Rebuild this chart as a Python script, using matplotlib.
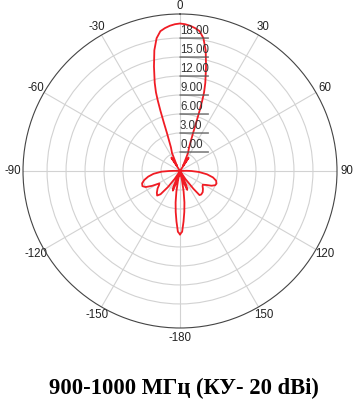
import numpy as np
import matplotlib
matplotlib.use('Agg')
import matplotlib.pyplot as plt

# pattern: angle (deg, clockwise from top) and gain (dB)
angles = [-180, -178, -176, -174, -172, -170, -168, -166,
          -163, -160, -157, -153, -149, -146, -143, -140, -137, -133, -128, -124,
          -121, -118, -115, -112, -108, -104, -100, -96, -92, -90, -88, -85,
          -36, -33, -30, -27, -24, -21, -19, -18.5, -18, -17.5, -17, -16, -14, -12, -10, -8, -6, -4, -2,
          0,
          2, 4, 6, 8, 10, 12, 14, 16, 17, 17.5, 18, 18.5, 19, 21, 24, 27, 30, 33, 36,
          85, 88, 90, 93, 97, 101, 105, 109, 112, 115, 118, 121, 124, 128, 133, 138, 141, 143, 146, 149,
          152, 156, 159, 162, 165, 166, 168, 170, 172, 174, 176, 178, 180]
gain_db = [7.0, 6.6, 5.0, 3.5, 2.0, 0.3, -1.5, -3.0,
           -1.2, 0.3, -0.3, -3.0, -3.0, -1.5, 0.2, 1.8, 2.3, 2.0, 1.5, 1.0,
           0.8, 2.0, 3.0, 3.4, 3.3, 2.8, 2.1, 1.2, -0.1, -1.3, -2.2, -3.0,
           -3.0, -0.5, -2.0, -1.5, 0.1, 1.0, 3.3, 5.0, 7.0, 8.7, 10.0, 11.5, 14.0, 16.5, 18.3, 19.3, 19.7, 20.0, 20.2,
           20.3,
           20.2, 20.0, 19.7, 19.3, 18.3, 16.5, 14.0, 11.5, 10.0, 8.7, 7.0, 5.0, 3.3, 1.0, 0.1, -1.5, -2.0, -0.5, -3.0,
           -3.0, -2.0, -1.2, 0.0, 1.3, 2.3, 2.9, 3.1, 3.0, 2.5, 1.7, 1.2, 1.3, 1.6, 1.9, 2.0, 1.9, 0.5, -1.5, -3.0,
           -3.0, -0.5, 0.2, -1.0, -3.0, -3.0, -1.5, 0.3, 2.0, 3.5, 5.0, 6.6, 7.0]

ring_values = [0, 3, 6, 9, 12, 15, 18]
theta_ticks = [0, 30, 60, 90, 120, 150, 180, 210, 240, 270, 300, 330]
theta_labels = ['', '30', '60', '90', '120', '150', '-180', '-150', '-120', '-90', '-60', '-30']
top_label = '0'
title = '900-1000 МГц (КУ- 20 dBi)'
r_max = 21.8

plt.rcParams['font.family'] = ['Liberation Sans', 'DejaVu Sans']

fig = plt.figure(figsize=(3.54, 4.0), dpi=100)
ax = fig.add_axes([0.065, 0.18, 0.887, 0.785], projection='polar')
ax.set_theta_zero_location('N')
ax.set_theta_direction(-1)
ax.set_rlim(-3, r_max)

ax.plot(np.deg2rad(angles), gain_db, color='#f01c24', lw=1.3)

# grid
ax.set_rgrids(ring_values, labels=[])
ax.set_thetagrids(theta_ticks, labels=theta_labels)
ax.grid(True, color='#d2d2d2', lw=0.8)
ax.set_xticks(np.deg2rad(np.arange(0, 360, 5)), minor=True)
ax.tick_params(axis='x', which='both', direction='in', length=3.5, color='#444444',
               labelsize=8.3, labelcolor='#222222', pad=0)
ax.tick_params(axis='y', length=0)
ax.spines['polar'].set_color('#444444')
ax.spines['polar'].set_linewidth(0.8)

# "0" at the top sits closer to the circle than the default tick label
ax.annotate(top_label, xy=(0, r_max), xytext=(0, 1.5), textcoords='offset points',
            ha='center', va='bottom', fontsize=8.3, color='#222222',
            annotation_clip=False)

# ring value labels with underline
for v in ring_values:
    ax.annotate('', xy=(0, v), xytext=(20.5, 0), textcoords='offset points',
                arrowprops=dict(arrowstyle='-', color='#555555', lw=0.9,
                                shrinkA=0, shrinkB=0))
    ax.annotate('%.2f' % v, xy=(0, v), xytext=(0, 0.8), textcoords='offset points',
                ha='left', va='bottom', fontsize=8.3, color='#333333')

fig.text(184 / 354, 1 - 388 / 400, title, ha='center', va='center', fontsize=16.3,
         fontweight='bold', family=['Liberation Serif', 'DejaVu Serif'])

fig.savefig('out.png', dpi=100)
